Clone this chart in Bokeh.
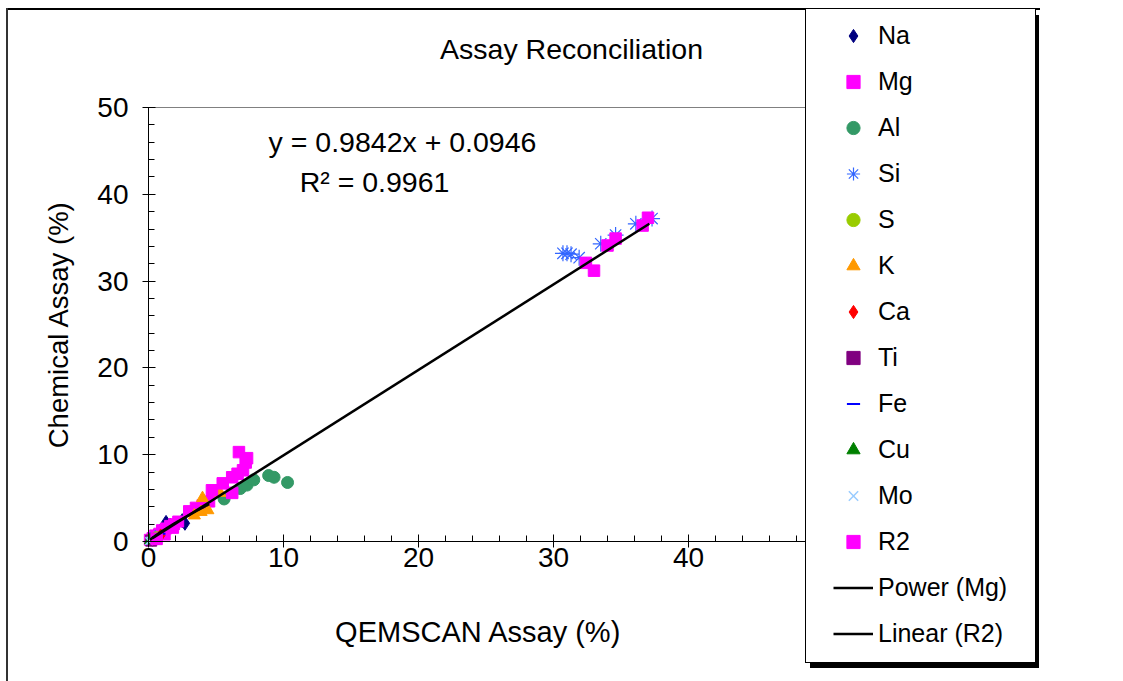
import numpy as np
from bokeh.plotting import figure
from bokeh.models import Range1d, SingleIntervalTicker, Legend, LegendItem, Label
from bokeh.embed import file_html
from bokeh.resources import INLINE

FONT = "Liberation Sans"

# ---------------- data ----------------
na_x = [0.4, 0.9, 1.3, 1.6, 2.5, 2.7]
na_y = [0.6, 1.3, 2.2, 1.9, 2.4, 2.1]

mg_x = [0.1, 0.3, 0.5, 0.8, 1.0, 1.2, 1.3, 1.6, 1.9, 2.2, 3.0, 3.5, 4.0, 4.5]
mg_y = [0.2, 0.4, 0.7, 0.9, 1.3, 0.8, 1.5, 1.8, 2.0, 2.3, 3.5, 3.9, 4.2, 4.6]

al_x = [0.3, 5.6, 6.8, 7.3, 7.8, 8.9, 9.3, 10.3]
al_y = [0.2, 4.9, 6.1, 6.5, 7.1, 7.6, 7.4, 6.8]

si_x = [0.5, 30.7, 31.0, 31.3, 31.9, 33.5, 34.6, 36.1, 37.3]
si_y = [0.4, 33.2, 33.2, 33.1, 32.7, 34.3, 35.3, 36.6, 37.2]

s_x = [0.2, 0.6]
s_y = [0.3, 0.5]

k_x = [3.4, 3.9, 4.0, 4.4, 5.3]
k_y = [3.0, 3.4, 5.0, 3.6, 5.6]

ca_x = [0.3, 0.9]
ca_y = [0.2, 0.7]

ti_x = [0.2, 0.4]
ti_y = [0.1, 0.3]

fe_x = [0.5, 1.0, 1.5]
fe_y = [0.4, 0.9, 1.4]

cu_x = [0.1, 0.2]
cu_y = [0.1, 0.15]

mo_x = [0.05, 0.15]
mo_y = [0.05, 0.1]

r2_x = [0.6, 1.8, 4.7, 5.5, 6.2, 6.2, 6.6, 7.0, 7.2, 7.3, 6.7,
        32.4, 33.0, 34.0, 34.6, 36.6, 37.0]
r2_y = [0.3, 1.6, 5.9, 6.7, 7.4, 5.6, 7.8, 8.2, 9.1, 9.6, 10.3,
        32.1, 31.2, 34.1, 34.9, 36.4, 37.3]

LIN_SLOPE = 0.9842
LIN_INTERCEPT = 0.0946
lin_x = [0.3, 37.1]

X_MAX = 48.89   # right edge of the plot area (hidden under the legend)
Y_MAX = 50

title_text = "Assay Reconciliation"
eq_text = "y = 0.9842x + 0.0946"
r2_text = "R\u00b2 = 0.9961"

# ---------------- geometry (pixels) ----------------
W, H = 1123, 681
X0_PX, X_PER = 148, 13.5      # x = 0 at 148 px, 13.5 px per unit
Y0_PX, Y_PER = 541, 8.68      # y = 0 at 541 px from top, 8.68 px per unit

p = figure(width=W, height=H, output_backend="svg", toolbar_location=None,
           title_location=None,
           x_range=Range1d(-X0_PX / X_PER, (W - X0_PX) / X_PER),
           y_range=Range1d(-(H - Y0_PX) / Y_PER, Y0_PX / Y_PER),
           min_border_left=0, min_border_right=0,
           min_border_top=0, min_border_bottom=0)
p.background_fill_color = "white"
p.border_fill_color = "white"
p.outline_line_color = None
p.xgrid.visible = False
p.ygrid.visible = False

for ax, lab, bnd in ((p.xaxis[0], "QEMSCAN Assay (%)", (0, X_MAX)),
                     (p.yaxis[0], "Chemical Assay (%)", (0, Y_MAX))):
    ax.fixed_location = 0
    ax.bounds = bnd
    ax.ticker = SingleIntervalTicker(interval=10, num_minor_ticks=5)
    ax.axis_label = lab
    ax.axis_label_text_font = FONT
    ax.axis_label_text_font_style = "normal"
    ax.axis_label_text_color = "black"
    ax.major_label_text_font = FONT
    ax.major_label_text_font_size = "28px"
    ax.major_label_text_color = "black"
    ax.axis_line_color = "black"
    ax.axis_line_width = 1
    ax.major_tick_line_color = "black"
    ax.minor_tick_line_color = "black"
    ax.major_tick_in = 7
    ax.major_tick_out = 6
    ax.minor_tick_in = 6
    ax.minor_tick_out = 0

p.xaxis[0].axis_label_text_font_size = "29px"
p.yaxis[0].axis_label_text_font_size = "27.5px"
p.xaxis[0].major_label_standoff = 0
p.xaxis[0].axis_label_standoff = 46
p.yaxis[0].major_label_standoff = 14
p.yaxis[0].axis_label_standoff = 20

# top border of the plot area (grey)
p.line([0, X_MAX], [Y_MAX, Y_MAX], line_color="#808080", line_width=1)

# ---------------- series ----------------
r_na = p.scatter(na_x, na_y, marker="diamond", size=14, color="#000080")
r_mg = p.scatter(mg_x, mg_y, marker="square", size=11, color="#FF00FF")
r_al = p.scatter(al_x, al_y, marker="circle", size=12, color="#339966")
r_si = p.scatter(si_x, si_y, marker="asterisk", size=16, line_color="#3366FF",
                 line_width=1.2)
r_s = p.scatter(s_x, s_y, marker="circle", size=11, color="#99CC00")
r_k = p.scatter(k_x, k_y, marker="triangle", size=12, color="#FF9900")
r_ca = p.scatter(ca_x, ca_y, marker="diamond", size=13, color="#FF0000")
r_ti = p.scatter(ti_x, ti_y, marker="square", size=11, color="#800080")
r_fe = p.scatter(fe_x, fe_y, marker="dash", size=7, line_color="#0000FF", line_width=2)
r_cu = p.scatter(cu_x, cu_y, marker="triangle", size=11, color="#008000")
r_mo = p.scatter(mo_x, mo_y, marker="x", size=11, line_color="#99CCFF", line_width=1.5)
r_r2 = p.scatter(r2_x, r2_y, marker="square", size=11.5, color="#FF00FF")

# power trend line fitted to Mg
b_pow, ln_a = np.polyfit(np.log(mg_x), np.log(mg_y), 1)
pow_x = np.linspace(min(mg_x), max(mg_x), 100)
pow_y = np.exp(ln_a) * pow_x ** b_pow
r_pow = p.line(pow_x, pow_y, line_color="black", line_width=2.5)

lin_y = [LIN_SLOPE * v + LIN_INTERCEPT for v in lin_x]
r_lin = p.line(lin_x, lin_y, line_color="black", line_width=2.5)

# ---------------- texts ----------------
def add_label(text, cx, cy, size):
    p.add_layout(Label(x=cx, y=H - cy, x_units="screen", y_units="screen",
                       text=text, text_align="center", text_baseline="middle",
                       text_font=FONT, text_font_size=size, text_color="black"))

add_label(title_text, 571, 48, "28.5px")
add_label(eq_text, 402, 141, "28.5px")
add_label(r2_text, 374, 181, "28.5px")

# ---------------- legend box, shadow, outer border ----------------
dummy = p.scatter([], [], marker="square", size=1, fill_alpha=0, line_alpha=0)

def box_legend(left, top, w, h, fill, fill_alpha, border, border_w):
    lg = Legend(items=[LegendItem(label=" ", renderers=[dummy])],
                location=(left, H - (top + h)),
                padding=0, margin=0, spacing=0,
                glyph_width=1, glyph_height=1, label_standoff=0,
                label_width=w - 1, label_height=h,
                background_fill_color=fill, background_fill_alpha=fill_alpha,
                border_line_color=border if border else "black",
                border_line_width=border_w if border_w else 1,
                border_line_alpha=1 if border else 0,
                label_text_font_size="1px")
    p.add_layout(lg)

# outer chart border: top edge and left edge only are visible
box_legend(6, 8, 1034, 2, "black", 1.0, None, 0)
box_legend(6, 8, 2, 700, "#333333", 1.0, None, 0)

box_legend(810, 15, 229, 653, "black", 1.0, None, 0)      # legend shadow
box_legend(805, 10, 229, 653, "white", 1.0, "black", 1)   # legend box

items = [
    ("Na", r_na), ("Mg", r_mg), ("Al", r_al), ("Si", r_si), ("S", r_s),
    ("K", r_k), ("Ca", r_ca), ("Ti", r_ti), ("Fe", r_fe), ("Cu", r_cu),
    ("Mo", r_mo), ("R2", r_r2), ("Power (Mg)", r_pow), ("Linear (R2)", r_lin),
]
legend = Legend(items=[LegendItem(label=l, renderers=[r]) for l, r in items],
                location=(823, H - 660),
                padding=10, margin=0, spacing=13,
                glyph_width=40, glyph_height=33, label_height=33,
                label_standoff=5,
                label_text_font=FONT, label_text_font_size="25px",
                label_text_color="black",
                background_fill_alpha=0, border_line_alpha=0)
p.add_layout(legend)

open("out.html", "w").write(file_html(p, INLINE))
